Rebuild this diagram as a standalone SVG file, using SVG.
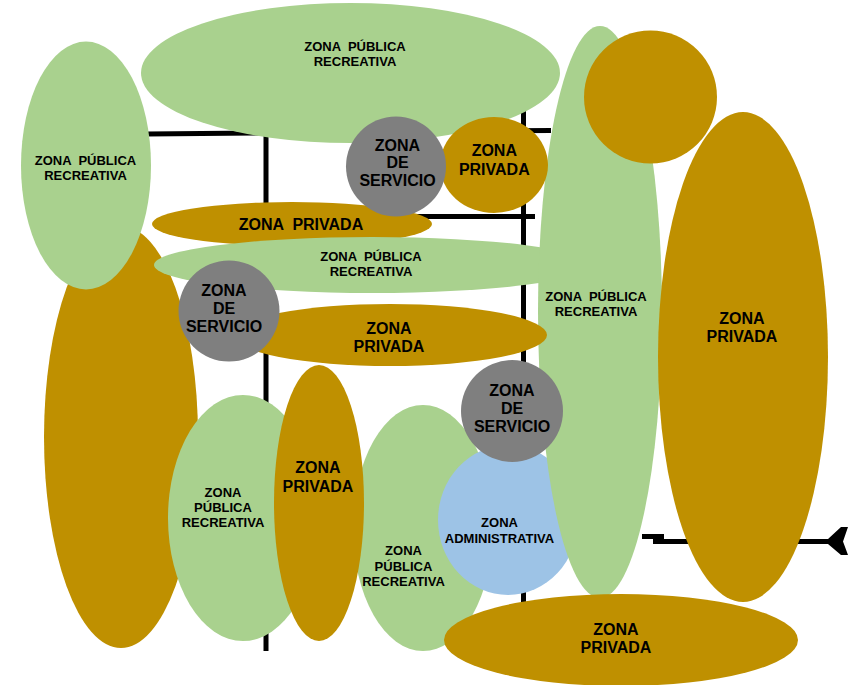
<svg xmlns="http://www.w3.org/2000/svg" width="854" height="685" viewBox="0 0 854 685">
<style>
.g{fill:#A9D18E}
.b{fill:#BF9000}
.s{fill:#7F7F7F}
.a{fill:#9DC3E6}
.road{stroke:#000;stroke-width:5;fill:none}
text{font-family:"Liberation Sans",Arial,sans-serif;font-weight:bold;fill:#000;text-anchor:middle;white-space:pre}
.L{font-size:16px}
.S{font-size:13px}
</style>
<rect width="854" height="685" fill="#fff"/>
<g id="connectors">
<line class="road" x1="147" y1="134" x2="551" y2="130.5"/>
<line class="road" x1="266" y1="131" x2="266" y2="651"/>
<line class="road" x1="523.5" y1="110" x2="523.5" y2="610"/>
<line class="road" x1="266" y1="216.5" x2="535" y2="216.5"/>
<polygon points="642,534 664,534 664,539 832,539 832,544 653,544 653,539 642,539" fill="#000"/>
<polygon points="848,527 841,527 828,539 828,544 841,555 848,555 843,541.5" fill="#000"/>
</g>
<g id="zona-privada-izq"><ellipse class="b" cx="121" cy="437" rx="77" ry="211"/></g>
<g id="zona-publica-izq"><ellipse class="g" cx="86" cy="165.5" rx="65" ry="124"/>
<text class="S" x="85.5" y="164.7">ZONA  PÚBLICA</text><text class="S" x="85.5" y="179.7">RECREATIVA</text></g>
<g id="zona-publica-sup"><ellipse class="g" cx="350.5" cy="73" rx="209.5" ry="70"/>
<text class="S" x="355" y="51.4">ZONA  PÚBLICA</text><text class="S" x="355" y="66.4">RECREATIVA</text></g>
<g id="zona-privada-h1"><ellipse class="b" cx="292" cy="224" rx="140" ry="22"/>
<text class="L" x="301" y="230">ZONA  PRIVADA</text></g>
<g id="zona-publica-h"><ellipse class="g" cx="372" cy="265" rx="218" ry="28"/>
<text class="S" x="371" y="261.4">ZONA  PÚBLICA</text><text class="S" x="371" y="275.7">RECREATIVA</text></g>
<g id="zona-publica-inf2"><ellipse class="g" cx="423" cy="528" rx="70" ry="123"/>
<text class="S" x="403.5" y="555.4">ZONA</text><text class="S" x="403.5" y="570.7">PÚBLICA</text><text class="S" x="403.5" y="586">RECREATIVA</text></g>
<g id="zona-administrativa"><ellipse class="a" cx="508" cy="520" rx="70" ry="75"/>
<text class="S" x="499.5" y="527.4">ZONA</text><text class="S" x="499.5" y="543">ADMINISTRATIVA</text></g>
<g id="zona-publica-der"><ellipse class="g" cx="600" cy="312" rx="62" ry="286"/>
<text class="S" x="596" y="301.4">ZONA  PÚBLICA</text><text class="S" x="596" y="316.4">RECREATIVA</text></g>
<g id="zona-privada-c1"><ellipse class="b" cx="494" cy="165" rx="54" ry="48"/>
<text class="L" x="494.3" y="156.4">ZONA</text><text class="L" x="494.3" y="174.7">PRIVADA</text></g>
<g id="zona-servicio-1"><circle class="s" cx="396" cy="166.5" r="50"/>
<text class="L" x="397.5" y="150.7">ZONA</text><text class="L" x="397.5" y="168.4">DE</text><text class="L" x="397.5" y="185.7">SERVICIO</text></g>
<g id="zona-privada-h2"><ellipse class="b" cx="390" cy="335" rx="157" ry="31"/>
<text class="L" x="389" y="334">ZONA</text><text class="L" x="389" y="352.4">PRIVADA</text></g>
<g id="zona-publica-inf1"><ellipse class="g" cx="243" cy="518" rx="75" ry="123"/>
<text class="S" x="223" y="497.4">ZONA</text><text class="S" x="223" y="512">PÚBLICA</text><text class="S" x="223" y="527.4">RECREATIVA</text></g>
<g id="zona-privada-v"><ellipse class="b" cx="319" cy="503" rx="45" ry="138"/>
<text class="L" x="318" y="472.7">ZONA</text><text class="L" x="318" y="491.7">PRIVADA</text></g>
<g id="zona-servicio-2"><circle class="s" cx="229" cy="311" r="50.5"/>
<text class="L" x="224" y="296.4">ZONA</text><text class="L" x="224" y="314">DE</text><text class="L" x="224" y="332.4">SERVICIO</text></g>
<g id="zona-servicio-3"><circle class="s" cx="512" cy="411" r="51"/>
<text class="L" x="512" y="395.7">ZONA</text><text class="L" x="512" y="414">DE</text><text class="L" x="512" y="431.7">SERVICIO</text></g>
<g id="zona-privada-inf"><ellipse class="b" cx="621" cy="640" rx="177" ry="46"/>
<text class="L" x="616" y="635">ZONA</text><text class="L" x="616" y="653">PRIVADA</text></g>
<g id="zona-privada-circ"><circle class="b" cx="650.5" cy="97" r="66.5"/></g>
<g id="zona-privada-der"><ellipse class="b" cx="743" cy="357" rx="85" ry="245"/>
<text class="L" x="742" y="324">ZONA</text><text class="L" x="742" y="341.7">PRIVADA</text></g>
</svg>
